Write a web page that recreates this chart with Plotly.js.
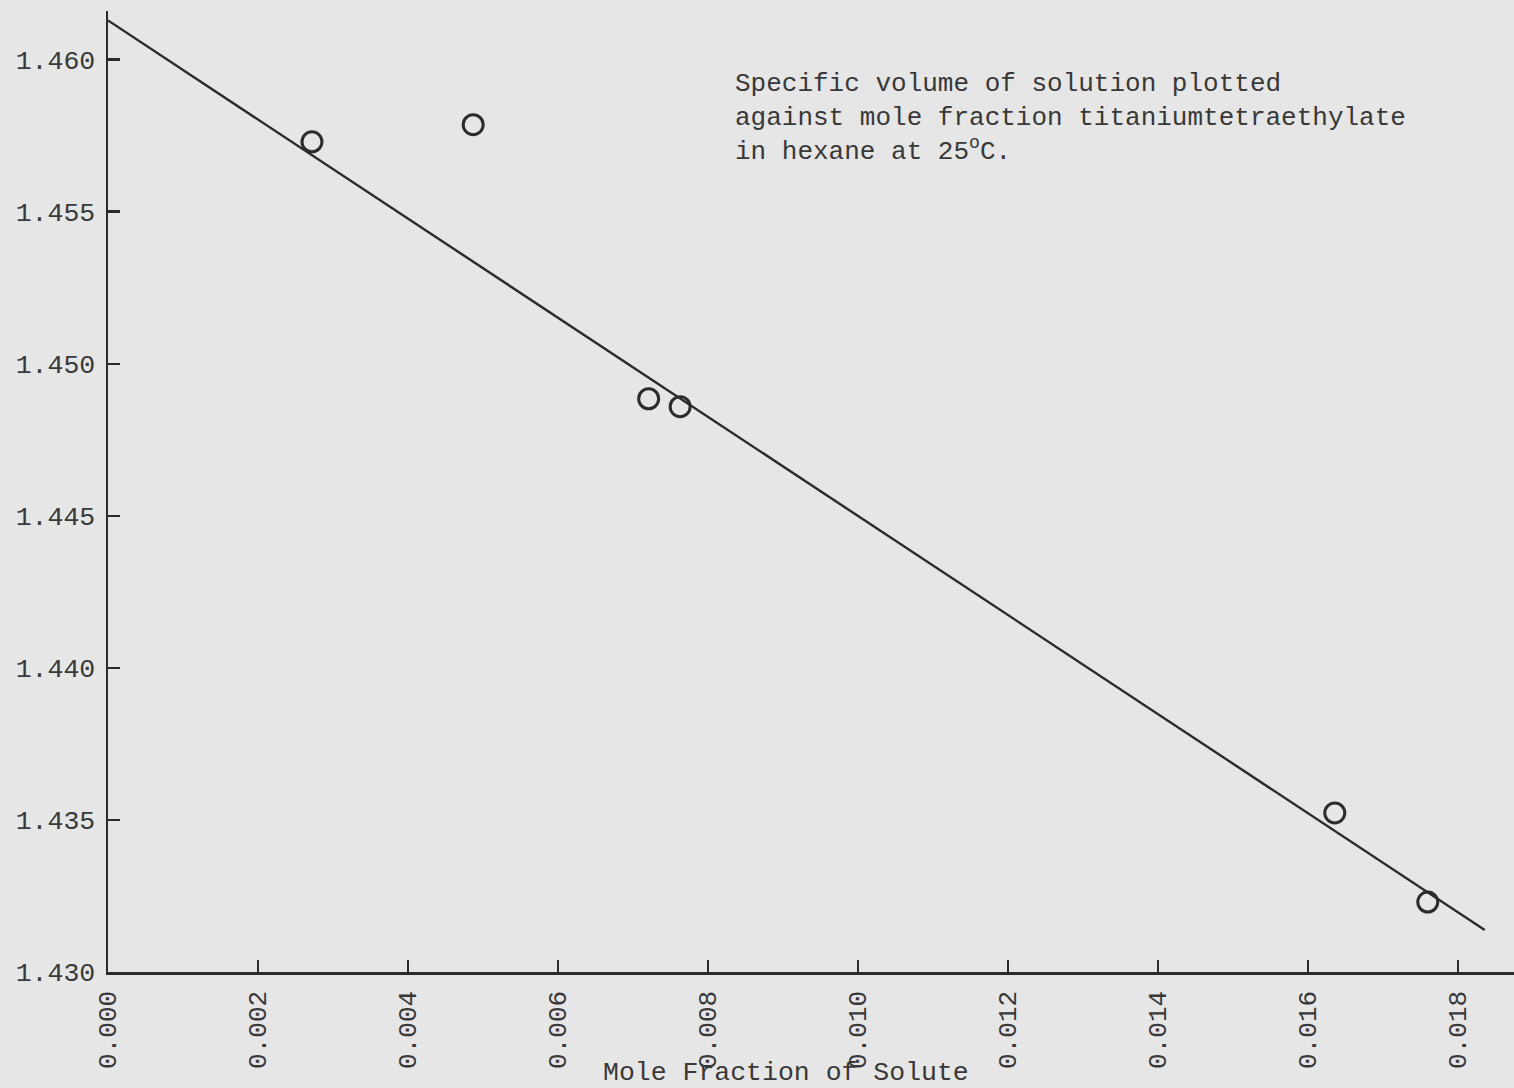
<!DOCTYPE html>
<html>
<head>
<meta charset="utf-8">
<script src="https://cdn.plot.ly/plotly-3.0.1.min.js"></script>
<style>
html,body{margin:0;padding:0;background:#e6e6e6;}
#chart{width:1514px;height:1088px;}
</style>
</head>
<body>
<div id="chart"></div>
<script>
// Measured points: mole fraction of solute vs specific volume
const moleFraction = [0.00272, 0.00487, 0.00721, 0.00763, 0.01636, 0.01760];
const specificVolume = [1.45730, 1.45786, 1.44885, 1.44859, 1.43523, 1.43230];

// Hand-drawn fit line end points
const fitX = [0.0000, 0.01836];
const fitY = [1.46129, 1.43138];

const xTicks = [0.000, 0.002, 0.004, 0.006, 0.008, 0.010, 0.012, 0.014, 0.016, 0.018];
const xTickText = ["0.000","0.002","0.004","0.006","0.008","0.010","0.012","0.014","0.016","0.018"];
const yTicks = [1.430, 1.435, 1.440, 1.445, 1.450, 1.455, 1.460];
const yTickText = ["1.430","1.435","1.440","1.445","1.450","1.455","1.460"];

const noteText = "Specific volume of solution plotted<br>against mole fraction titaniumtetraethylate<br>in hexane at 25<sup>o</sup>C.";
const xTitle = "Mole Fraction of Solute";

const ink = "#2b2b2b";
const fontFam = "Liberation Mono, Courier New, monospace";
const textCol = "#383838";

const traces = [
  {
    x: fitX, y: fitY, mode: "lines", type: "scatter",
    line: {color: ink, width: 2.4}, hoverinfo: "skip", showlegend: false
  },
  {
    x: moleFraction, y: specificVolume, mode: "markers", type: "scatter",
    marker: {symbol: "circle-open", size: 20, color: ink, line: {width: 3, color: ink}},
    showlegend: false
  }
];

const layout = {
  width: 1514, height: 1088,
  paper_bgcolor: "#e6e6e6", plot_bgcolor: "#e6e6e6",
  margin: {l: 108, r: 0, t: 11, b: 116},
  font: {family: fontFam, color: textCol, size: 26},
  xaxis: {
    range: [0, 0.01875], showgrid: false, zeroline: false,
    showline: true, linecolor: ink, linewidth: 2.5,
    ticks: "inside", ticklen: 12, tickwidth: 2.5, tickcolor: ink,
    tickvals: xTicks, ticktext: xTickText, tickangle: -90,
    tickfont: {family: fontFam, size: 26, color: textCol},
    ticklabelstandoff: 6
  },
  yaxis: {
    range: [1.430, 1.4616], showgrid: false, zeroline: false,
    showline: true, linecolor: ink, linewidth: 2.5,
    ticks: "inside", ticklen: 12, tickwidth: 2.5, tickcolor: ink,
    tickvals: yTicks, ticktext: yTickText,
    tickfont: {family: fontFam, size: 26.5, color: textCol},
    ticklabelstandoff: 5
  },
  annotations: [
    {
      text: noteText, xref: "paper", yref: "paper",
      x: (733 - 108) / 1406, y: (972 - 67) / 961,
      xanchor: "left", yanchor: "top", align: "left", showarrow: false,
      font: {family: fontFam, size: 26, color: textCol}
    },
    {
      text: xTitle, xref: "paper", yref: "paper",
      x: (786 - 108) / 1406, y: -(1073 - 972) / 961,
      xanchor: "center", yanchor: "middle", showarrow: false,
      font: {family: fontFam, size: 26.5, color: textCol}
    }
  ]
};

Plotly.newPlot("chart", traces, layout, {displayModeBar: false, staticPlot: true});
</script>
</body>
</html>
